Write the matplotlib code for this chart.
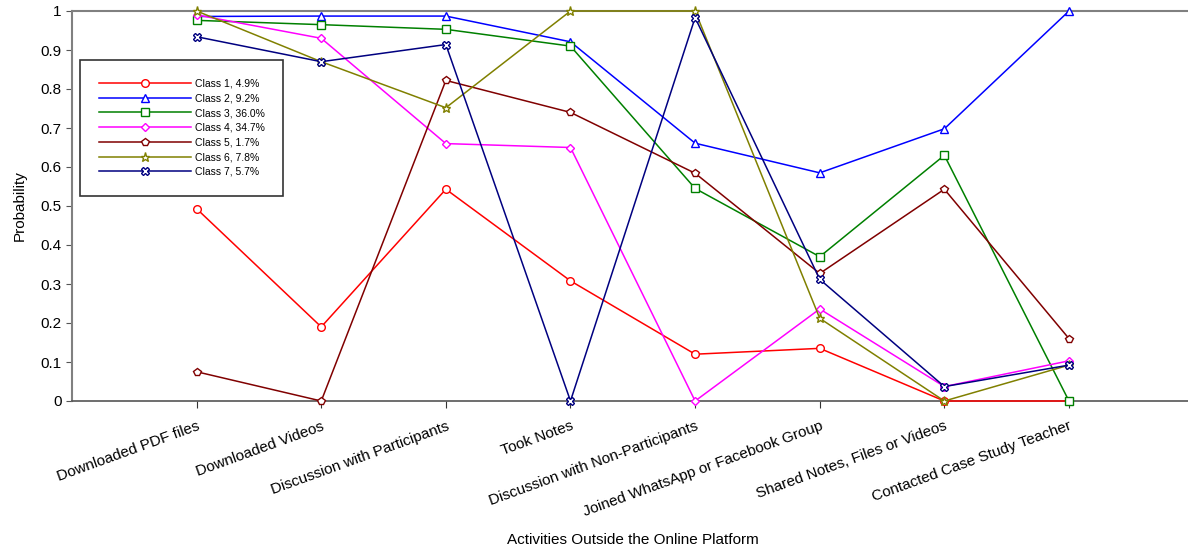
import matplotlib
matplotlib.use("Agg")
import matplotlib.pyplot as plt
from matplotlib.ticker import FuncFormatter, MultipleLocator

plt.rcParams['font.family'] = ['Liberation Sans', 'DejaVu Sans']

categories = ["Downloaded PDF files", "Downloaded Videos", "Discussion with Participants",
              "Took Notes", "Discussion with Non-Participants", "Joined WhatsApp or Facebook Group",
              "Shared Notes, Files or Videos", "Contacted Case Study Teacher"]

class_labels = ["Class 1, 4.9%", "Class 2, 9.2%", "Class 3, 36.0%", "Class 4, 34.7%",
                "Class 5, 1.7%", "Class 6, 7.8%", "Class 7, 5.7%"]

class1 = [0.493, 0.190, 0.543, 0.308, 0.120, 0.135, 0.000, 0.000]
class2 = [0.986, 0.987, 0.987, 0.921, 0.661, 0.585, 0.698, 1.000]
class3 = [0.976, 0.965, 0.953, 0.910, 0.545, 0.370, 0.630, 0.000]
class4 = [0.990, 0.930, 0.660, 0.650, 0.000, 0.236, 0.037, 0.103]
class5 = [0.075, 0.000, 0.822, 0.740, 0.584, 0.327, 0.543, 0.160]
class6 = [1.000, 0.870, 0.752, 1.000, 1.000, 0.212, 0.000, 0.092]
class7 = [0.934, 0.870, 0.914, 0.000, 0.983, 0.312, 0.037, 0.092]

series = [class1, class2, class3, class4, class5, class6, class7]
colors = ["#FF0000", "#0000FF", "#008000", "#FF00FF", "#800000", "#808000", "#000080"]
markers = ["o", "^", "s", "D", "p", "*", "X"]
msizes = [5.5, 5.5, 5.5, 4.5, 5.5, 6.5, 5.5]

fig = plt.figure(figsize=(11.88, 5.5), dpi=100)
ax = fig.add_axes([72/1188, 149/550, 1121.6/1188, 390/550])

x = list(range(len(categories)))
for vals, c, m, ms, lab in zip(series, colors, markers, msizes, class_labels):
    ax.plot(x, vals, color=c, lw=1.1, marker=m, markersize=ms, markerfacecolor="white",
            markeredgecolor=c, markeredgewidth=1.0, label=lab, clip_on=False, zorder=3)

ax.set_xlim(-1, 8)
ax.set_ylim(0, 1)
ax.yaxis.set_major_locator(MultipleLocator(0.1))
ax.yaxis.set_major_formatter(FuncFormatter(lambda v, p: f"{v:g}"))
ax.set_xticks(x)
ax.set_xticklabels(categories, rotation=20, ha="right", va="top", rotation_mode="anchor", fontsize=11)
ax.tick_params(axis="y", labelsize=11, direction="out", length=4, color="#555555")
ax.tick_params(axis="x", direction="out", length=5, color="#333333", pad=8)

for s in ["left", "top"]:
    ax.spines[s].set_color("#808080")
    ax.spines[s].set_linewidth(1.5)
ax.spines["bottom"].set_color("#555555")
ax.spines["bottom"].set_linewidth(1.2)
ax.spines["right"].set_visible(False)

ax.set_ylabel("Probability", fontsize=11, labelpad=10)
ax.set_xlabel("Activities Outside the Online Platform", fontsize=11)
ax.xaxis.set_label_coords(0.5, -0.338)

leg = ax.legend(loc="upper left", bbox_to_anchor=(80/1188, 1 - 60/550), bbox_transform=fig.transFigure,
                fontsize=7.5, frameon=True, fancybox=False, handlelength=8.9, handletextpad=0.3,
                labelspacing=0.45, borderpad=1.8, borderaxespad=0)
leg.get_frame().set_edgecolor("black")
leg.get_frame().set_linewidth(1.2)

fig.savefig("out.png", dpi=100)
